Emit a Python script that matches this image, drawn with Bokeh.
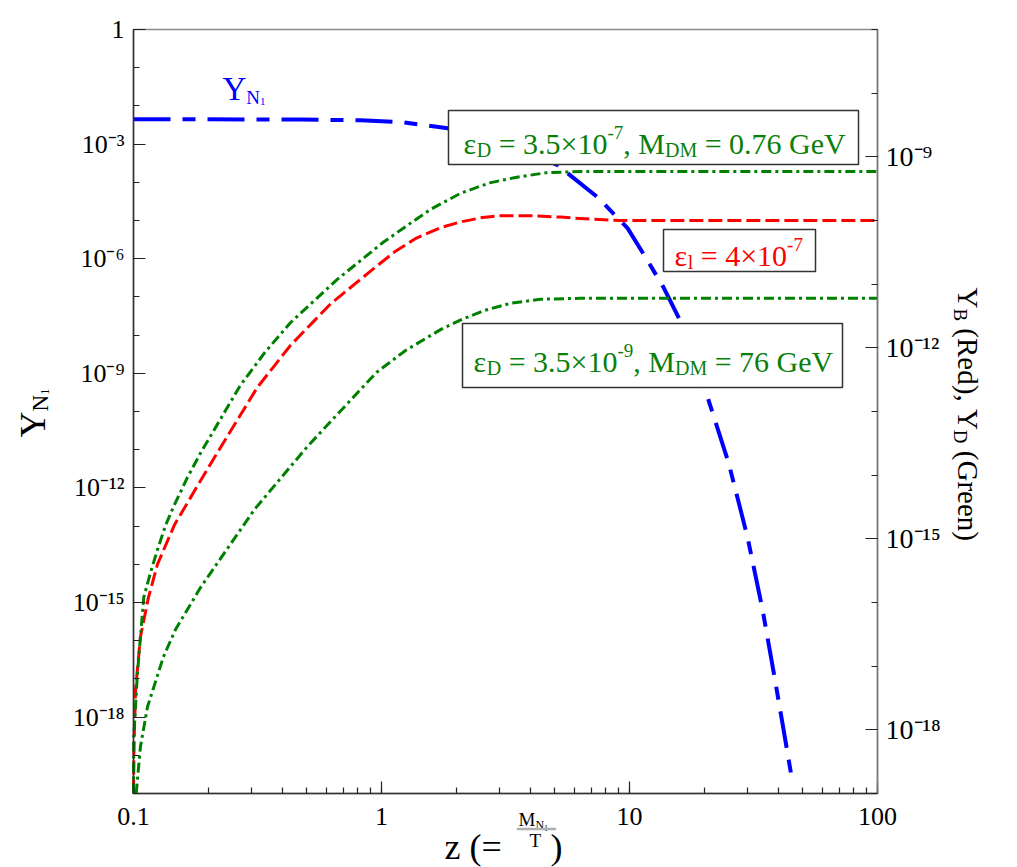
import math
from bokeh.plotting import figure
from bokeh.models import (Range1d, LogScale, LogAxis, FixedTicker,
                          CustomJSTickFormatter, Label, BoxAnnotation)
from bokeh.embed import file_html
from bokeh.resources import INLINE

# ---- data: abundances versus z = M_N1 / T ----
# heavy neutrino abundance Y_N1 (left axis)
z_n1 = [0.1, 0.471, 0.823, 1.19, 1.85, 3.02, 3.88, 5.13, 7.43, 9.82, 11.6,
        13.7, 16.1, 20.2, 25.1, 29.9, 34.4, 38.8, 41.8, 45.4]
y_n1 = [4.5e-3, 4.4e-3, 4.2e-3, 3.8e-3, 2.6e-3, 1.13e-3, 6.6e-4, 2.8e-4,
        4.1e-5, 6.3e-6, 1.1e-6, 1.8e-7, 2.2e-8, 3.7e-10, 4.5e-12, 5.2e-14,
        6.5e-16, 7.9e-18, 4.7e-19, 2.0e-20]

# baryon asymmetry Y_B, eps_l = 4e-7 (right axis)
z_b = [0.1, 0.10046, 0.1019, 0.1067, 0.1149, 0.125, 0.1463, 0.186, 0.212,
       0.316, 0.430, 0.623, 0.903, 1.139, 1.384, 1.73, 2.08, 2.51, 3.02,
       3.99, 5.27, 6.96, 9.2, 100]
y_b = [1.0e-19, 5.5e-19, 4.3e-18, 2.9e-17, 1.2e-16, 4.0e-16, 1.66e-15,
       8.1e-15, 1.9e-14, 2.4e-13, 1.1e-12, 4.9e-12, 1.6e-11, 3.3e-11,
       5.3e-11, 7.7e-11, 9.5e-11, 1.1e-10, 1.19e-10, 1.19e-10, 1.13e-10,
       1.05e-10, 1.0e-10, 1.0e-10]

# dark matter asymmetry Y_D, eps_D = 3.5e-7, M_DM = 0.76 GeV (right axis)
z_d1 = [0.1, 0.10028, 0.1035, 0.1067, 0.1100, 0.1171, 0.1250, 0.1346, 0.145,
        0.165, 0.186, 0.270, 0.3405, 0.430, 0.665, 1.02, 1.31, 1.58, 2.08,
        2.73, 3.47, 4.58, 6.34, 100]
y_d1 = [1e-19, 7.9e-19, 6.8e-18, 2.9e-17, 1.2e-16, 2.95e-16, 6.8e-16,
        1.62e-15, 3.2e-15, 9.2e-15, 2.2e-14, 2.6e-13, 8.7e-13, 2.5e-12,
        1.2e-11, 4.6e-11, 9.1e-11, 1.5e-10, 2.67e-10, 3.9e-10, 4.75e-10,
        5.6e-10, 5.9e-10, 5.9e-10]

# dark matter asymmetry Y_D, eps_D = 3.5e-9, M_DM = 76 GeV (right axis)
z_d2 = [0.1025, 0.1067, 0.1139, 0.132, 0.1477, 0.186, 0.3076, 0.503, 0.954,
        1.25, 1.73, 2.12, 2.58, 3.31, 4.375, 6.34, 100]
y_d2 = [1.0e-19, 5.5e-19, 2.3e-18, 1.4e-17, 3.76e-17, 1.7e-16, 2.9e-15,
        2.83e-14, 4.1e-13, 9.1e-13, 1.93e-12, 2.82e-12, 3.83e-12, 5.0e-12,
        5.8e-12, 6.0e-12, 6.0e-12]

# ---- ticks ----
x_ticks = [0.1, 1, 10, 100]
x_labels = ["0.1", "1", "10", "100"]
left_ticks = [1, 1e-3, 1e-6, 1e-9, 1e-12, 1e-15, 1e-18]
left_labels = ["1", "10⁻³", "10⁻⁶", "10⁻⁹", "10⁻¹²", "10⁻¹⁵", "10⁻¹⁸"]
right_ticks = [1e-9, 1e-12, 1e-15, 1e-18]
right_labels = ["10⁻⁹", "10⁻¹²", "10⁻¹⁵", "10⁻¹⁸"]

x_minor = [k * 10.0 ** e for e in (-1, 0, 1) for k in range(1, 10)] + [100]
left_minor = [10.0 ** -k for k in range(0, 21)]
right_minor = [10.0 ** -k for k in range(7, 20)]

X_LIM = (0.1, 100)
YL_LIM = (1e-20, 1)
YR_LIM = (1e-19, 1e-7)

SERIF = "Liberation Serif"
W, H = 1017, 867
PL, PR, PT, PB = 133, 877, 29, 793   # plot box edges in canvas pixels


def padded(lo, hi, a, b, before, after):
    """Log range whose [lo, hi] part spans canvas pixels a..b."""
    per = (math.log10(hi) - math.log10(lo)) / (b - a)
    return Range1d(10 ** (math.log10(lo) - before * per),
                   10 ** (math.log10(hi) + after * per))


# The frame fills the whole canvas; the axes sit at fixed data locations so
# that the titles and notes around the plot box are drawn without clipping.
p = figure(width=W, height=H, x_axis_type="log", y_axis_type="log",
           x_range=padded(*X_LIM, PL, PR, PL, W - PR),
           y_range=padded(*YL_LIM, H - PB, H - PT, H - PB, PT),
           output_backend="svg", toolbar_location=None,
           min_border_left=0, min_border_right=0,
           min_border_top=0, min_border_bottom=0)
p.title.visible = False
p.extra_y_ranges = {"right": padded(*YR_LIM, H - PB, H - PT, H - PB, PT)}
p.extra_y_scales = {"right": LogScale()}
p.grid.visible = False
p.background_fill_color = "white"
p.border_fill_color = "white"
p.outline_line_color = None


def formatter(vals, labs):
    return CustomJSTickFormatter(args=dict(vals=vals, labs=labs), code="""
        const i = vals.findIndex(t => Math.abs(Math.log10(t) - Math.log10(tick)) < 1e-6);
        return i >= 0 ? labs[i] : "";
    """)


def style_axis(ax, size, standoff, line_color="#333333"):
    ax.axis_line_color = line_color
    ax.axis_line_width = 1.5
    ax.major_tick_in = 12
    ax.major_tick_out = 0
    ax.minor_tick_in = 6
    ax.minor_tick_out = 0
    ax.major_tick_line_color = "#222222"
    ax.minor_tick_line_color = "#222222"
    ax.major_tick_line_width = 1.2
    ax.minor_tick_line_width = 1.2
    ax.major_label_text_font = SERIF
    ax.major_label_text_font_size = f"{size}px"
    ax.major_label_text_color = "black"
    ax.major_label_standoff = standoff


# plot box border (top and right sides show through)
p.add_layout(BoxAnnotation(left=X_LIM[0], right=X_LIM[1], bottom=YL_LIM[0], top=YL_LIM[1],
                           fill_alpha=0, line_color="#8a8a8a", line_alpha=1.0,
                           line_width=1.5, level="underlay"))

xa = p.xaxis[0]
xa.ticker = FixedTicker(ticks=x_ticks, minor_ticks=x_minor)
xa.formatter = formatter(x_ticks, x_labels)
xa.fixed_location = YL_LIM[0]
xa.bounds = X_LIM
style_axis(xa, 26, 14)

ya = p.yaxis[0]
ya.ticker = FixedTicker(ticks=left_ticks, minor_ticks=left_minor)
ya.formatter = formatter(left_ticks, left_labels)
ya.fixed_location = X_LIM[0]
ya.bounds = YL_LIM
style_axis(ya, 26, 9)

ra = LogAxis(y_range_name="right",
             ticker=FixedTicker(ticks=right_ticks, minor_ticks=right_minor),
             formatter=formatter(right_ticks, right_labels),
             fixed_location=X_LIM[1], bounds=YR_LIM)
style_axis(ra, 28, 8, line_color="#7a7a7a")
p.add_layout(ra, "right")

# ---- curves ----
p.line(z_n1, y_n1, line_color="#0000ff", line_width=4, line_dash="37 12 13 12")
p.line(z_b, y_b, y_range_name="right", line_color="#ff0000", line_width=3,
       line_dash="14 5")
p.line(z_d1, y_d1, y_range_name="right", line_color="#008000", line_width=3,
       line_dash="10 4 3 4")
p.line(z_d2, y_d2, y_range_name="right", line_color="#008000", line_width=3,
       line_dash="10 4 3 4")

# ---- text (positions given in canvas pixels, at the text baseline) ----
NB = "\u00a0"
BASE_LIFT = 0.25          # renderer places the alphabetic baseline this low (in em)
EM = {c: 0.5 for c in "0123456789"}
EM.update({".": 0.25, ",": 0.25, " ": 0.25, NB: 0.25, "=": 0.564, "×": 0.564,
           "-": 0.333, "(": 0.333, ")": 0.333, "M": 0.889, "D": 0.722,
           "G": 0.722, "e": 0.444, "V": 0.722, "ε": 0.44, "Y": 0.722,
           "N": 0.722, "B": 0.667, "R": 0.667, "d": 0.5, "r": 0.333,
           "n": 0.5, "z": 0.444, "T": 0.611, "l": 0.278})


def label(cx, cy, text, size, color, angle=0.0):
    lift = BASE_LIFT * size
    cx -= lift * math.sin(angle)
    cy -= lift * math.cos(angle)
    p.add_layout(Label(x=cx, y=H - cy, x_units="screen", y_units="screen",
                       text=text, text_font=SERIF, text_font_size=f"{size}px",
                       text_color=color, text_align="left",
                       text_baseline="alphabetic", angle=angle))


def rich(cx, cy, runs, color, angle=0.0):
    """Lay out (text, size, baseline drop) runs one after another."""
    ca, sa = math.cos(angle), math.sin(angle)
    adv = 0.0
    for text, size, drop in runs:
        text = text.replace(" ", NB)
        x = cx + adv * ca + drop * sa
        y = cy - adv * sa + drop * ca
        label(x, y, text, size, color, angle)
        adv += sum(EM.get(ch, 0.5) for ch in text) * size


def box(l, t, r, b, color="#333333", fill="white"):
    p.add_layout(BoxAnnotation(left=l, right=r, top=H - t, bottom=H - b,
                               left_units="screen", right_units="screen",
                               top_units="screen", bottom_units="screen",
                               fill_color=fill, fill_alpha=1.0,
                               line_color=color, line_alpha=1.0, line_width=1.5))


GREEN, RED, BLUE = "#0a800a", "#ff0000", "#0000ff"

box(448, 110, 858, 164)
rich(463, 150, [("ε", 30, 0), ("D", 20, 4), (" = 3.5×10", 30, 0), ("-7", 19, -13),
                (", M", 30, 0), ("DM", 20, 4), (" = 0.76 GeV", 30, 0)], GREEN)

box(462, 323, 842, 387)
rich(473, 368, [("ε", 30, 0), ("D", 20, 4), (" = 3.5×10", 30, 0), ("-9", 19, -13),
                (", M", 30, 0), ("DM", 20, 4), (" = 76 GeV", 30, 0)], GREEN)

box(663, 229, 815, 271)
rich(674, 262, [("ε", 30, 0), ("l", 20, 4), (" = 4×10", 30, 0), ("-7", 19, -13)], RED)

rich(222, 97, [("Y", 33, 0), ("N", 19, 5), ("1", 11, 7)], BLUE)

# axis titles
rich(41, 437, [("Y", 36, 0), ("N", 23, 5), ("1", 13, 7)], "black", angle=math.pi / 2)
rich(960, 287, [("Y", 29, 0), ("B", 19, 5), (" (Red), Y", 29, 0), ("D", 19, 5),
                (" (Green)", 29, 0)], "black", angle=-math.pi / 2)

rich(444, 855, [("z (=", 36, 0)], "black")
rich(518, 824, [("M", 19, 0), ("N", 12, 3), ("1", 8, 5)], "black")
label(529, 845, "T", 19, "black")
label(550, 855, ")", 36, "black")
box(517, 828, 555, 829, color="#b0b0b0", fill="#b0b0b0")

open("out.html", "w").write(file_html(p, INLINE))
